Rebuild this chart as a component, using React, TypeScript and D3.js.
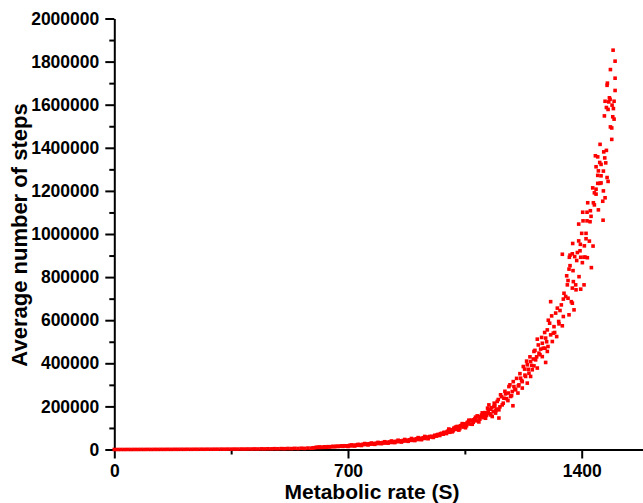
import React, { useEffect, useRef } from "react";
import * as d3 from "d3";

type Pt = [number, number];

const xTicks = [0, 700, 1400];
const xMinorTicks = [350, 1050, 1750];
const yTicks = [0, 200000, 400000, 600000, 800000, 1000000, 1200000, 1400000, 1600000, 1800000, 2000000];
const yMinorTicks = [100000, 300000, 500000, 700000, 900000, 1100000, 1300000, 1500000, 1700000, 1900000];

// metabolic rate (S), average number of steps
const flatRun: Pt[] = [
  [0, 0], [10, 0], [20, 100], [30, 0], [40, 200], [50, 100], [60, 300], [70, 200], [80, 400], [90, 300],
  [100, 500], [110, 400], [120, 600], [130, 500], [140, 700], [150, 600], [160, 800], [170, 700], [180, 900], [190, 800],
  [200, 1000], [210, 900], [220, 1100], [230, 1000], [240, 1200], [250, 1100], [260, 1300], [270, 1200], [280, 1400], [290, 1300],
  [300, 1500], [310, 1400], [320, 1700], [330, 1500], [340, 1800], [350, 1700], [360, 2000], [370, 1800], [380, 2200], [390, 2000],
  [400, 2400], [410, 2200], [420, 2700], [430, 2400], [440, 3000], [450, 2700], [460, 3300], [470, 3000], [480, 3700], [490, 3300],
  [500, 4100], [510, 3700], [520, 4600], [530, 4100], [540, 5200], [550, 4600], [560, 5900], [570, 5200], [580, 6700], [590, 6000],
  [595, 7500],
];

const lowBand: Pt[] = [
  [600, 8000], [605, 10500], [610, 9200], [615, 11800], [620, 9600], [625, 10400], [630, 12500], [635, 10200], [640, 13100], [645, 11600],
  [650, 13000], [655, 14800], [660, 12600], [665, 15400], [670, 13900], [675, 15100], [680, 16800], [685, 14500], [690, 17300], [695, 16000],
  [700, 17000], [705, 19200], [710, 16900], [715, 19800], [720, 18400], [725, 21000], [730, 19500], [735, 22600], [740, 20800], [745, 24100],
  [750, 23000], [755, 25800], [760, 23400], [765, 26700], [770, 25100], [775, 27900], [780, 26200], [785, 29400], [790, 27600], [795, 30800],
  [800, 29500], [805, 32400], [810, 29900], [815, 33600], [820, 31800], [825, 35100], [830, 32600], [835, 36800], [840, 34500], [845, 38200],
  [850, 36400], [855, 40100], [860, 37200], [865, 41800], [870, 39300], [875, 43500], [880, 40600], [885, 45200], [890, 42400], [895, 47300],
  [900, 44500], [905, 49800], [910, 46200], [915, 52100], [920, 48700], [925, 54600], [930, 51300], [935, 57900], [940, 53800], [945, 60200],
];

const lowBandEdge: Pt[] = [
  [700, 14000], [710, 21000], [720, 16500], [730, 23500], [740, 18500], [750, 27500], [760, 21500], [770, 30000], [780, 24000], [790, 33000],
  [800, 27000], [810, 36000], [820, 29500], [830, 39500], [840, 32000], [850, 43000], [860, 34500], [870, 46500], [880, 38000], [890, 51000],
  [900, 41500], [910, 55000], [920, 45500], [930, 60500], [940, 50000],
];

const midBand: Pt[] = [
  [947, 58000], [950, 61000], [955, 56000], [957, 60000], [960, 66000], [965, 62000], [967, 68000], [970, 70000], [975, 65000], [977, 73000],
  [980, 75000], [985, 71000], [987, 79000], [990, 79000], [995, 74000], [997, 83000], [1000, 86000], [1005, 80000], [1007, 91000], [1010, 92000],
  [1015, 87000], [1017, 99000], [1020, 98000], [1025, 93000], [1027, 107000], [1030, 104000], [1035, 97000], [1037, 110000], [1040, 112000], [1045, 104000],
  [1047, 119000], [1050, 118000], [1055, 110000], [1057, 125000], [1060, 127000], [1065, 118000], [1067, 134000], [1070, 136000], [1075, 126000], [1077, 138000],
  [1080, 142000], [1085, 133000], [1087, 156000], [1090, 151000], [1095, 141000], [1097, 153000], [1100, 160000], [1105, 148000], [1107, 161000], [1110, 171000],
  [1115, 158000], [1117, 169000], [1120, 182000], [1122, 207000], [1125, 166000], [1127, 187000], [1130, 194000], [1132, 153000], [1135, 176000], [1137, 199000],
  [1140, 206000], [1142, 169000], [1145, 188000],
];

const bandFill: Pt[] = [
  [1002, 95000], [1012, 82000], [1022, 104000], [1032, 90000], [1042, 120000], [1052, 101000], [1062, 136000], [1072, 117000], [1082, 150000], [1092, 128000],
  [1102, 170000], [1112, 145000], [1118, 192000], [1128, 160000], [1138, 215000], [1143, 180000], [1150, 232000], [1155, 198000], [1160, 245000], [1165, 215000],
  [1170, 270000], [1175, 236000], [1180, 262000], [1185, 300000], [1190, 250000], [1195, 315000], [1200, 280000], [1205, 330000], [1210, 295000], [1215, 352000],
  [1220, 320000], [1225, 385000], [1230, 345000], [1235, 410000], [1240, 372000], [1245, 430000], [1250, 390000], [1255, 420000], [1260, 460000], [1265, 430000],
  [1270, 485000], [1275, 440000], [1280, 520000], [1285, 470000], [1295, 500000], [1300, 600000], [1310, 620000], [1315, 540000],
];

const curveRise: Pt[] = [
  [1147, 223000], [1152, 184000], [1152, 146000], [1157, 254000], [1162, 207000], [1167, 238000], [1172, 258000], [1179, 227000], [1182, 292000], [1187, 246000],
  [1192, 269000], [1194, 203000], [1197, 292000], [1202, 277000], [1209, 262000], [1212, 300000], [1217, 331000], [1222, 315000], [1222, 285000], [1229, 373000],
  [1232, 339000], [1237, 393000], [1237, 308000], [1242, 354000], [1247, 408000], [1247, 339000], [1252, 370000], [1257, 455000], [1257, 388000], [1262, 416000],
  [1267, 512000], [1267, 378000], [1272, 447000], [1277, 466000], [1282, 493000], [1282, 431000], [1289, 543000], [1290, 470000], [1292, 517000], [1292, 404000],
  [1297, 555000], [1297, 455000], [1299, 478000], [1304, 586000], [1307, 686000], [1307, 532000], [1312, 501000], [1317, 570000], [1319, 543000], [1322, 633000],
  [1325, 524000], [1327, 656000], [1331, 594000], [1332, 583000], [1335, 645000], [1339, 671000], [1342, 574000], [1342, 906000], [1345, 698000], [1345, 617000],
  [1347, 725000], [1352, 710000], [1355, 806000], [1357, 764000], [1359, 784000], [1359, 702000], [1362, 837000], [1362, 625000], [1365, 853000], [1369, 686000],
  [1372, 908000], [1372, 749000], [1372, 679000], [1374, 830000], [1375, 779000], [1377, 648000], [1379, 895000], [1382, 764000], [1383, 741000], [1385, 877000],
  [1387, 914000], [1392, 802000], [1395, 922000], [1397, 744000], [1402, 867000], [1407, 892000], [1407, 764000], [1417, 890000], [1429, 844000],
];

const steepTop: Pt[] = [
  [1494, 1853000], [1500, 1802000], [1486, 1763000], [1500, 1723000], [1477, 1700000], [1476, 1690000], [1500, 1666000], [1483, 1632000], [1485, 1625000], [1470, 1616000],
  [1481, 1613000], [1497, 1616000], [1491, 1598000], [1474, 1587000], [1479, 1578000], [1495, 1582000], [1468, 1548000], [1493, 1544000], [1497, 1533000], [1486, 1497000],
  [1490, 1492000], [1490, 1439000], [1455, 1416000], [1474, 1388000], [1466, 1381000], [1441, 1363000], [1448, 1358000], [1469, 1353000], [1472, 1330000], [1454, 1332000],
  [1458, 1323000], [1443, 1312000], [1450, 1293000], [1465, 1292000], [1448, 1272000], [1458, 1270000], [1476, 1262000], [1479, 1244000], [1448, 1235000], [1454, 1235000],
  [1458, 1237000], [1433, 1214000], [1443, 1208000], [1465, 1200000], [1438, 1191000], [1443, 1185000], [1470, 1168000], [1463, 1152000], [1418, 1145000], [1435, 1145000],
  [1438, 1135000], [1426, 1108000], [1450, 1112000], [1403, 1101000], [1416, 1101000], [1428, 1082000], [1391, 1046000], [1404, 1061000], [1416, 1061000], [1425, 1057000],
  [1464, 1064000], [1400, 1003000], [1413, 1003000], [1373, 956000], [1391, 968000], [1413, 978000], [1423, 967000], [1396, 952000], [1408, 945000], [1434, 944000],
  [1365, 902000], [1397, 892000], [1410, 893000], [1363, 892000],
];

const width = 643;
const height = 503;
const font = "'Liberation Sans', Arial, Helvetica, sans-serif";

export default function App() {
  const ref = useRef<SVGSVGElement>(null);

  useEffect(() => {
    const svg = d3.select(ref.current);
    svg.selectAll("*").remove();

    const x = d3.scaleLinear().domain([0, 1600]).range([114.3, 114.3 + (1600 * 233.7) / 700]);
    const y = d3.scaleLinear().domain([0, 2000000]).range([449.5, 18.5]);

    svg.append("rect").attr("width", width).attr("height", height).attr("fill", "#ffffff");

    // axes
    const yAxis = svg.append("g")
      .attr("transform", `translate(${x(0)},0)`)
      .call(d3.axisLeft(y).tickValues(yTicks).tickSize(9).tickPadding(6).tickSizeOuter(0).tickFormat(d3.format("d")));
    yAxis.append("g")
      .call(d3.axisLeft(y).tickValues(yMinorTicks).tickSize(5).tickFormat(() => ""))
      .select(".domain").remove();

    const xAxis = svg.append("g")
      .attr("transform", `translate(0,${y(0)})`)
      .call(d3.axisBottom(x).tickValues(xTicks).tickSize(9).tickPadding(6).tickSizeOuter(0).tickFormat(d3.format("d")));
    xAxis.append("g")
      .call(d3.axisBottom(x).tickValues(xMinorTicks).tickSize(5).tickFormat(() => ""))
      .select(".domain").remove();

    for (const g of [yAxis, xAxis]) {
      g.selectAll(".domain").attr("stroke", "#000").attr("stroke-width", 2);
      g.selectAll(".tick line").attr("stroke", "#000").attr("stroke-width", 2);
      g.selectAll(".tick text")
        .attr("fill", "#000")
        .attr("font-family", font)
        .attr("font-size", 17.5)
        .attr("font-weight", "bold");
    }

    // points
    const all = [...flatRun, ...lowBand, ...lowBandEdge, ...midBand, ...bandFill, ...curveRise, ...steepTop];
    const s = 3.6;
    svg.append("g")
      .selectAll("rect")
      .data(all)
      .join("rect")
      .attr("x", (d) => x(d[0]) - s / 2)
      .attr("y", (d) => y(d[1]) - s / 2)
      .attr("width", s)
      .attr("height", s)
      .attr("fill", "#ff0000");

    // titles
    svg.append("text")
      .attr("x", 372)
      .attr("y", 498.5)
      .attr("text-anchor", "middle")
      .attr("font-family", font)
      .attr("font-size", 21)
      .attr("font-weight", "bold")
      .text("Metabolic rate (S)");

    svg.append("text")
      .attr("transform", "translate(26.5,235) rotate(-90)")
      .attr("text-anchor", "middle")
      .attr("font-family", font)
      .attr("font-size", 22)
      .attr("font-weight", "bold")
      .text("Average number of steps");
  }, []);

  return (
    <svg
      ref={ref}
      width={width}
      height={height}
      style={{ position: "absolute", left: 0, top: 0, display: "block" }}
    />
  );
}
